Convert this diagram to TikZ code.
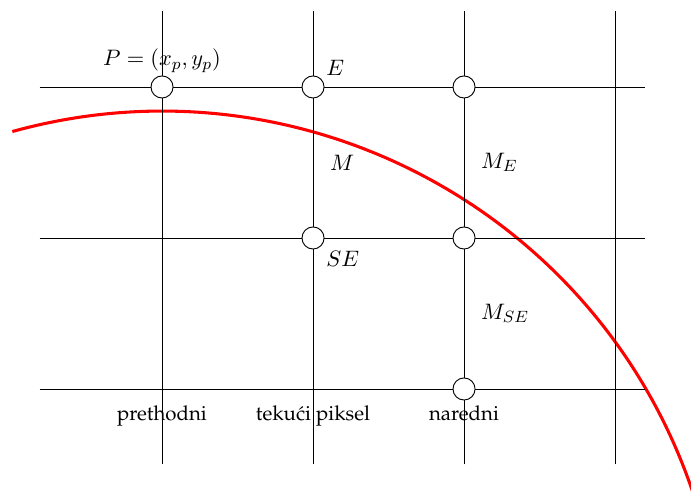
\documentclass[tikz,border=0pt]{standalone}
\usepackage[T1]{fontenc}
\renewcommand{\rmdefault}{ppl}
\usepackage{tikz}
\usetikzlibrary{positioning}

\begin{document}
\begin{tikzpicture}[
  x=2.6cm, y=2.6cm,
  node distance=0.1cm and 0.1cm,
  gridline/.style={line width=0.45pt},
  pixel/.style={circle, draw, fill=white, line width=0.45pt,
    minimum size=0.38cm, inner sep=0pt},
  curve/.style={red, line width=1.5pt},
  mathlabel/.style={font=\fontsize{11}{13}\selectfont},
]
\useasboundingbox (-1.073,-0.728) rectangle (3.503,2.576);

% Circle arc
\draw[curve] (0,-1.87) ++(105.5:3.71) arc[start angle=105.5, end angle=18.8, radius=3.71];

% Grid
\foreach \i in {0,...,3}
  \draw[gridline] (\i,-0.5) -- (\i,2.5);
\foreach \j in {0,...,2}
  \draw[gridline] (-0.81,\j) -- (3.2,\j);

% Pixels
\node[pixel] (p) at (0,2) {};
\node[pixel] (e) at (1,2) {};
\node[pixel] (ee) at (2,2) {};
\node[pixel] (se) at (1,1) {};
\node[pixel] (ese) at (2,1) {};
\node[pixel] (sese) at (2,0) {};

% Midpoints
\coordinate (m) at (1,1.5);
\coordinate (me) at (2,1.5);
\coordinate (mse) at (2,0.5);
\coordinate (prev) at (0,0);
\coordinate (cur) at (1,0);

% Labels
\node[mathlabel, above=-2pt of p] (plabel) {$P=(x_p,y_p)$};
\node[mathlabel, above right=-2pt and -1pt of e] (elabel) {$E$};
\node[mathlabel, below right=-1pt and -1pt of se] (selabel) {$SE$};
\node[mathlabel, right=0.17cm of m] (mlabel) {$M$};
\node[mathlabel, right=0.17cm of me] (melabel) {$M_E$};
\node[mathlabel, right=0.17cm of mse] (mselabel) {$M_{SE}$};

\node[below=0.17cm of prev] (prevlabel) {prethodni};
\node[below=0.17cm of cur] (curlabel) {teku{\'c}i piksel};
\node[below=0.17cm of sese.center] (nextlabel) {naredni};

\end{tikzpicture}
\end{document}
